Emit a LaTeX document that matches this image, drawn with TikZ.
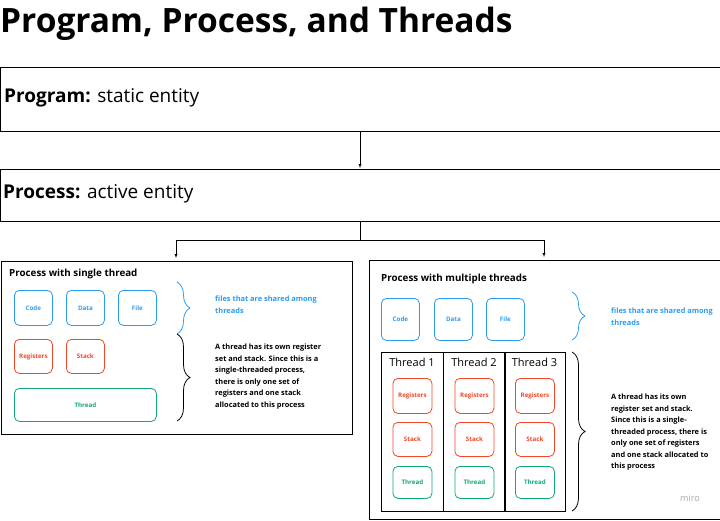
\documentclass[tikz,border=0pt]{standalone}
\usepackage{fontspec}
\setmainfont{Open Sans}
\usetikzlibrary{decorations.pathreplacing}
\definecolor{mblue}{HTML}{2D9BF0}
\definecolor{mred}{HTML}{F24726}
\definecolor{mgreen}{HTML}{12A67D}
\tikzset{
  box/.style={draw,rounded corners=5pt,line width=0.8pt,font=\bfseries\fontsize{6.2}{7}\selectfont,anchor=north west,inner sep=0pt},
  shared/.style={box,mblue,text=mblue,minimum width=38pt,minimum height=35pt},
  own/.style={box,mred,text=mred,minimum width=38pt,minimum height=34pt},
  thr/.style={box,mgreen,text=mgreen,minimum height=33pt},
  brc/.style={decorate,decoration={brace,amplitude=13pt},line width=0.8pt},
  note/.style={anchor=north west,align=left,inner sep=0pt,font=\bfseries\fontsize{7.4}{11.5}\selectfont}
}
\begin{document}
\begin{tikzpicture}[x=1pt,y=-1pt]
            \useasboundingbox (0,0) rectangle (720,520);
            \node[anchor=west,inner sep=0pt,font=\bfseries\fontsize{33.5}{34}\selectfont] (title) at (0,24) {Program, Process, and Threads};
            \draw (0,67) rectangle (720,131);
            \node[anchor=west,inner sep=0pt,font=\fontsize{19}{20}\selectfont] (prog) at (4,98) {\textbf{Program:} static entity};
            \draw (0,169) rectangle (720,221);
            \node[anchor=west,inner sep=0pt,font=\fontsize{19}{20}\selectfont] (proc) at (3,194) {\textbf{Process:} active entity};
            \coordinate (pbot) at (360,131);
            \coordinate (ptop) at (360,168);
            \draw[->,>=latex] (pbot) -- (ptop);
            \coordinate (split) at (360,221);
            \coordinate (lt) at (176,258);
            \coordinate (rt) at (544,257);
            \draw[->,>=latex] (split) -- (360,240) -| (lt);
            \draw[->,>=latex] (360,240) -| (rt);
            % single thread
            \draw (1,261) rectangle (352,434);
            \node[anchor=west,inner sep=0pt,font=\bfseries\fontsize{9.8}{10}\selectfont] (st) at (9,274) {Process with single thread};
            \node[shared] (code1) at (14,290) {Code};
            \node[shared] (data1) at (66,290) {Data};
            \node[shared] (file1) at (118,290) {File};
            \node[own] (reg1) at (14,339) {Registers};
            \node[own] (stk1) at (66,339) {Stack};
            \node[thr,minimum width=142pt] (thr1) at (14,388) {Thread};
            \draw[brc,mblue] (177,282) -- (177,334);
            \draw[brc] (177,334) -- (177,421);
            \node[note,text=mblue] (sh1) at (215,296) {files that are shared among\\threads};
            \node[note] (tn1) at (215,344) {A thread has its own register\\set and stack. Since this is a\\single-threaded process,\\there is only one set of\\registers and one stack\\allocated to this process};
            % multiple threads
            \draw (369,260) rectangle (720,519);
            \node[anchor=west,inner sep=0pt,font=\bfseries\fontsize{9.8}{10}\selectfont] (mt) at (381,279) {Process with multiple threads};
            \node[shared,minimum height=42pt] (code2) at (381,298) {Code};
            \node[shared,minimum height=42pt] (data2) at (434,298) {Data};
            \node[shared,minimum height=42pt] (file2) at (486,298) {File};
            \foreach \n/\x/\w in {1/381/62,2/443/62,3/504/61}{
                \draw[line width=0.8pt] (\x,352) rectangle ++(\w,159);
                \node[font=\fontsize{11}{12}\selectfont] (tl\n) at (\x+0.5*\w,362) {Thread \n};
                \node[own,minimum width=39pt,minimum height=35pt] (reg\n) at (\x+0.5*\w-19.5,378) {Registers};
                \node[own,minimum width=39pt,minimum height=34pt] (stk\n) at (\x+0.5*\w-19.5,422) {Stack};
                \node[thr,minimum width=39pt,minimum height=32pt] (th\n) at (\x+0.5*\w-19.5,466) {Thread};
            }
            \draw[brc,mblue] (572,292) -- (572,340);
            \draw[brc] (572,352) -- (572,511);
            \node[note,text=mblue] (sh2) at (611,308) {files that are shared among\\threads};
            \node[note] (tn2) at (611,394) {A thread has its own\\register set and stack.\\Since this is a single-\\threaded process, there is\\only one set of registers\\and one stack allocated to\\this process};
            \node[text=gray!70,font=\fontsize{9}{10}\selectfont] (miro) at (690,498) {miro};
\end{tikzpicture}
\end{document}
